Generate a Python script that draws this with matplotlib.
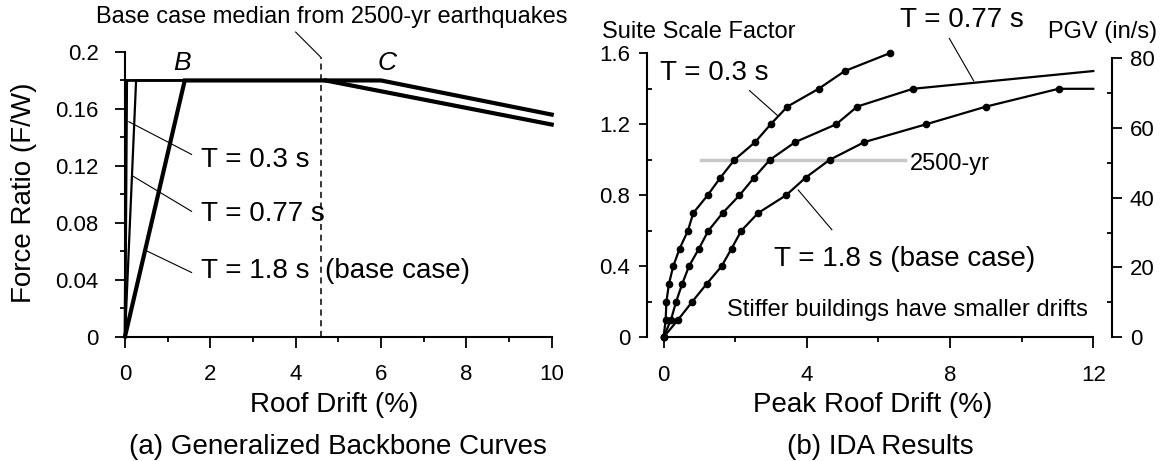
import matplotlib
matplotlib.use("Agg")
import matplotlib.pyplot as plt

plt.rcParams['font.family'] = ['Liberation Sans', 'DejaVu Sans']

W, H = 1163, 461

# (a) backbone curves: roof drift (%) vs force ratio (F/W)
bb_drift_03 = [0, 0.04, 4.7, 10]
bb_force_03 = [0, 0.18, 0.18, 0.149]
bb_drift_077 = [0, 0.26, 4.7, 10]
bb_force_077 = [0, 0.18, 0.18, 0.149]
bb_drift_18 = [0, 1.4, 6.0, 10]
bb_force_18 = [0, 0.18, 0.18, 0.156]
median_drift = 4.6

# (b) IDA results: suite scale factor vs peak roof drift (%)
sf_03 = [0, 0.1, 0.2, 0.3, 0.4, 0.5, 0.6, 0.7, 0.8, 0.9, 1.0, 1.1, 1.2, 1.3, 1.4, 1.5, 1.6]
drift_03 = [0, 0.06, 0.08, 0.15, 0.27, 0.45, 0.68, 0.83, 1.23, 1.59, 1.98, 2.56, 2.99, 3.46, 4.33, 5.06, 6.31]
sf_077 = [0, 0.1, 0.2, 0.3, 0.4, 0.5, 0.6, 0.7, 0.8, 0.9, 1.0, 1.1, 1.2, 1.3, 1.4, 1.5]
drift_077 = [0, 0.21, 0.35, 0.52, 0.71, 0.99, 1.25, 1.65, 2.12, 2.53, 2.97, 3.68, 4.82, 5.41, 6.96, 12.0]
sf_18 = [0, 0.1, 0.2, 0.3, 0.4, 0.5, 0.6, 0.7, 0.8, 0.9, 1.0, 1.1, 1.2, 1.3, 1.4, 1.4]
drift_18 = [0, 0.41, 0.80, 1.20, 1.62, 1.90, 2.17, 2.64, 3.42, 3.97, 4.64, 5.61, 7.33, 9.01, 11.03, 12.0]


def px(x, y):
    # figure fraction from pixel position (top-left origin)
    return x / W, 1 - y / H


def leader(ax, x0, y0, x1, y1):
    ax.plot([x0, x1], [y0, y1], color='black', lw=0.8, clip_on=False)


fig = plt.figure(figsize=(W / 100, H / 100), dpi=100)

# ---------- (a) ----------
ax1 = fig.add_axes([125 / W, 1 - 336.5 / H, 426.7 / W, 284.5 / H])
ax1.plot(bb_drift_03, bb_force_03, color='black', lw=2.0, clip_on=False, solid_joinstyle='miter')
ax1.plot(bb_drift_077, bb_force_077, color='black', lw=1.6, clip_on=False, solid_joinstyle='miter')
# softening branch drawn heavier, as in the original
ax1.plot(bb_drift_077[2:], bb_force_077[2:], color='black', lw=3.0, clip_on=False)
ax1.plot(bb_drift_18, bb_force_18, color='black', lw=3.0, clip_on=False, solid_joinstyle='miter')
ax1.plot([median_drift, median_drift], [0, 0.196], color='black', lw=1.1,
         ls=(0, (4, 3)), clip_on=False)
ax1.set_xlim(0, 10)
ax1.set_ylim(0, 0.2)
ax1.spines['top'].set_visible(False)
ax1.spines['right'].set_visible(False)
for s in ['left', 'bottom']:
    ax1.spines[s].set_linewidth(1.5)
ax1.set_xticks(range(0, 11, 2))
ax1.set_xticks(range(1, 10, 2), minor=True)
ax1.set_yticks([0, 0.04, 0.08, 0.12, 0.16, 0.2])
ax1.set_yticklabels(['0', '0.04', '0.08', '0.12', '0.16', '0.2'])
ax1.set_yticks([0.02, 0.06, 0.1, 0.14, 0.18], minor=True)
ax1.tick_params(axis='x', which='major', direction='out', length=8, width=1.3, labelsize=16, pad=12)
ax1.tick_params(axis='y', which='major', direction='out', length=7, width=1.3, labelsize=16, pad=12)
ax1.tick_params(which='minor', direction='out', length=3.5, width=1.3)

ax1.text(1.34, 0.192, 'B', fontsize=19, style='italic', ha='center', va='center')
ax1.text(6.14, 0.192, 'C', fontsize=19, style='italic', ha='center', va='center')

ax1.text(1.77, 0.124, 'T = 0.3 s', fontsize=20, va='center', ha='left')
leader(ax1, 0.09, 0.151, 1.56, 0.128)
ax1.text(1.77, 0.0858, 'T = 0.77 s', fontsize=20, va='center', ha='left')
leader(ax1, 0.17, 0.113, 1.56, 0.088)
ax1.text(1.77, 0.046, 'T = 1.8 s', fontsize=20, va='center', ha='left')
ax1.text(4.68, 0.046, '(base case)', fontsize=20, va='center', ha='left')
leader(ax1, 0.52, 0.060, 1.56, 0.045)
leader(ax1, median_drift, 0.196, 4.0, 0.214)
fig.text(*px(96, 17), 'Base case median from 2500-yr earthquakes', fontsize=17,
         ha='left', va='center')

fig.text(*px(24, 193), 'Force Ratio (F/W)', fontsize=20, rotation=90, ha='center', va='center')
fig.text(*px(334, 405), 'Roof Drift (%)', fontsize=20, ha='center', va='center')
fig.text(*px(338, 447), '(a) Generalized Backbone Curves', fontsize=20, ha='center', va='center')

# ---------- (b) ----------
ax2 = fig.add_axes([646.7 / W, 1 - 337.3 / H, 446.6 / W, 284 / H])
ax2.plot([1.04, 6.73], [1.0, 1.0], color='#c8c8c8', lw=2.5, zorder=1)
mk = dict(color='black', lw=1.6, marker='o', markersize=4.5, clip_on=False, zorder=3)
ax2.plot(drift_03, sf_03, **mk)
ax2.plot(drift_077, sf_077, markevery=list(range(len(drift_077) - 1)), **mk)
ax2.plot(drift_18, sf_18, markevery=list(range(len(drift_18) - 1)), **mk)
ax2.set_xlim(-0.47, 12)
ax2.set_ylim(0, 1.6)
ax2.spines['top'].set_visible(False)
ax2.spines['right'].set_visible(False)
for s in ['left', 'bottom']:
    ax2.spines[s].set_linewidth(1.5)
ax2.spines['bottom'].set_bounds(0, 12)
ax2.spines['left'].set_bounds(0, 1.6)
ax2.set_xticks([0, 4, 8, 12])
ax2.set_xticks([2, 6, 10], minor=True)
ax2.set_yticks([0, 0.4, 0.8, 1.2, 1.6])
ax2.set_yticklabels(['0', '0.4', '0.8', '1.2', '1.6'])
ax2.set_yticks([0.2, 0.6, 1.0, 1.4], minor=True)
ax2.tick_params(axis='x', which='major', direction='out', length=8, width=1.3, labelsize=16, pad=12)
ax2.tick_params(axis='x', which='minor', direction='out', length=3.5, width=1.3)
ax2.tick_params(axis='y', which='major', direction='out', length=6, width=1.3, labelsize=16, pad=6)
ax2.tick_params(axis='y', which='minor', direction='in', length=3.5, width=1.3)

ax3 = ax2.twinx()
ax3.set_ylim(0, 81.35)
for s in ['top', 'left', 'bottom']:
    ax3.spines[s].set_visible(False)
ax3.spines['right'].set_position(('outward', 13.2))
ax3.spines['right'].set_bounds(0, 80)
ax3.spines['right'].set_linewidth(1.5)
ax3.set_yticks([0, 20, 40, 60, 80])
ax3.set_yticks([10, 30, 50, 70], minor=True)
ax3.tick_params(axis='y', which='major', direction='out', length=7, width=1.3, labelsize=16, pad=6)
ax3.tick_params(axis='y', which='minor', direction='in', length=3.5, width=1.3)

ax2.text(-0.1, 1.49, 'T = 0.3 s', fontsize=20, va='center', ha='left')
leader(ax2, 2.4, 1.39, 3.18, 1.25)
ax2.text(6.6, 1.79, 'T = 0.77 s', fontsize=20, va='center', ha='left')
leader(ax2, 7.98, 1.684, 8.66, 1.445)
ax2.text(3.08, 0.443, 'T = 1.8 s (base case)', fontsize=20, va='center', ha='left')
leader(ax2, 3.76, 0.83, 4.70, 0.606)
ax2.text(6.89, 0.977, '2500-yr', fontsize=17, va='center', ha='left')
ax2.text(1.77, 0.153, 'Stiffer buildings have smaller drifts', fontsize=17, va='center', ha='left')

fig.text(*px(602, 32), 'Suite Scale Factor', fontsize=17, ha='left', va='center')
fig.text(*px(1157, 32), 'PGV (in/s)', fontsize=17, ha='right', va='center')
fig.text(*px(873, 405), 'Peak Roof Drift (%)', fontsize=20, ha='center', va='center')
fig.text(*px(880, 447), '(b) IDA Results', fontsize=20, ha='center', va='center')

fig.savefig('out.png', dpi=100)
